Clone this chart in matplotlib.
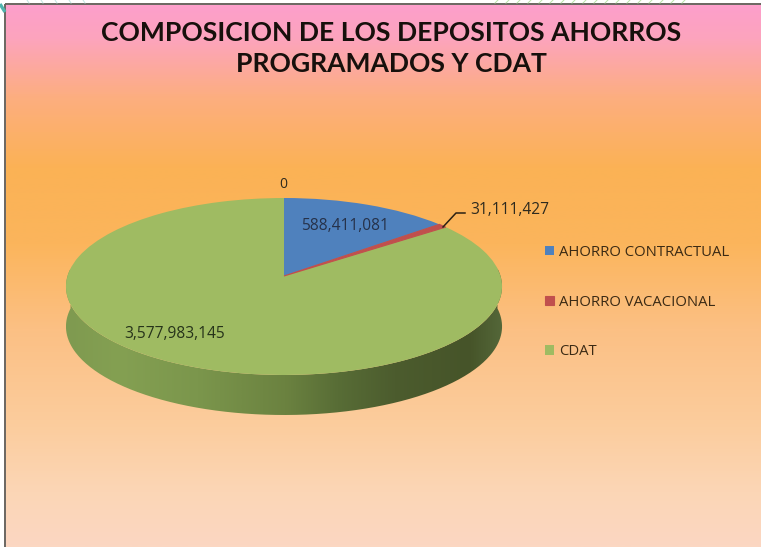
import numpy as np
import matplotlib
matplotlib.use("Agg")
import matplotlib.pyplot as plt
from matplotlib.colors import LinearSegmentedColormap
from matplotlib.path import Path
from matplotlib.patches import PathPatch, Rectangle
from matplotlib.transforms import Transform

TITLE_LINES = ["COMPOSICION DE LOS DEPOSITOS AHORROS", "PROGRAMADOS Y CDAT"]
categories = ["AHORRO CONTRACTUAL", "AHORRO VACACIONAL", "CDAT"]
values = [588411081, 31111427, 3577983145]
value_labels = ["588,411,081", "31,111,427", "3,577,983,145"]
zero_label = "0"
colors = ["#4f81bd", "#c0504d", "#9fbb62"]

W, H = 761, 547
CX, CY = 284, 276
A, B, K = 216.5, 87.25, 0.1186
DEPTH = 40


class Perspective(Transform):
    input_dims = output_dims = 2
    is_separable = False
    has_inverse = False
    is_affine = False

    def transform_non_affine(self, pts):
        pts = np.asarray(pts, float)
        w = 1 + K * pts[:, 1]
        return np.column_stack((CX + A * pts[:, 0] / w, CY - B * pts[:, 1] / w))


persp = Perspective()

fig = plt.figure(figsize=(W / 100, H / 100), dpi=100, facecolor="white")
ax = fig.add_axes([0, 0, 1, 1])

# tilted pie: wedges from the library, projected through the perspective transform
wedges, _ = ax.pie(values, colors=colors, startangle=90, counterclock=False,
                   wedgeprops=dict(linewidth=0))
for wd in wedges:
    wd.set_transform(persp + ax.transData)
    wd.set_zorder(5)
wedges[1].set_zorder(6)
wedges[1].set_edgecolor(colors[1])
wedges[1].set_linewidth(0.8)

ax.set_aspect("auto")
ax.set_axis_off()

# background panel
bg = LinearSegmentedColormap.from_list("bg", [
    (0.00, "#fd9fcb"), (0.06, "#fca4bd"), (0.17, "#fdae7f"), (0.30, "#fbb255"),
    (0.44, "#fbb55c"), (0.60, "#fcc084"), (0.78, "#fbcd9e"), (0.90, "#fcd6b6"),
    (1.00, "#fbd7c2")])
grad = np.linspace(0, 1, 512)[:, None]
ax.imshow(grad, cmap=bg, extent=(6, W, H, 5), aspect="auto", zorder=1)
ax.add_patch(Rectangle((5, 4), W, H, fc="none", ec="#6a6560", lw=1.4, zorder=2))

# slide decoration peeking out above the panel
for x0 in np.arange(495, 685, 11):
    ax.plot([x0, x0 + 3], [3, 0], color="#b9e3a8", lw=0.7, zorder=3)
for x0 in np.arange(27, 85, 14):
    ax.plot([x0, x0 + 2], [0, 3], color="#bfe6e2", lw=0.7, zorder=3)
ax.plot([0, 5], [4, 12], color="#4fb3ad", lw=2.4, zorder=3, solid_capstyle="butt")

# side of the disc
t = np.radians(np.linspace(175, 365, 240))
front = persp.transform_non_affine(np.column_stack((np.cos(t), np.sin(t))))
low = front + [0, DEPTH]
verts = np.vstack((front, low[::-1], front[:1]))
clip = PathPatch(Path(verts), fc="none", ec="none", transform=ax.transData)
ax.add_patch(clip)
side = LinearSegmentedColormap.from_list("side", [
    (0.00, "#7f9a50"), (0.12, "#84a052"), (0.30, "#7b964c"), (0.50, "#6b8240"),
    (0.62, "#586d36"), (0.75, "#4c5c2e"), (0.92, "#465429"), (1.00, "#55683a")])
im = ax.imshow(np.linspace(0, 1, 512)[None, :], cmap=side,
               extent=(CX - A - 2, CX + A + 4, CY + B + DEPTH + 20, CY - B),
               aspect="auto", zorder=4)
im.set_clip_path(clip)

ax.set_xlim(0, W)
ax.set_ylim(H, 0)

# title
for line, y in zip(TITLE_LINES, (33, 63.5)):
    ax.text(391, y, line, ha="center", va="center", family="Lato", weight="bold",
            fontsize=19.1, color="#17100c", zorder=7)

# data labels
lab = dict(family="Open Sans", fontsize=11.2, color="#2e2a1e", va="center", ha="center", zorder=7)
ax.text(345, 226, value_labels[0], **{**lab, "color": "#26324a"})
ax.text(510, 210, value_labels[1], **lab)
ax.text(175, 334, value_labels[2], **{**lab, "color": "#26331a"})
ax.text(283, 184, zero_label, **{**lab, "fontsize": 10})
ax.plot([443, 456, 465], [227, 213, 213], color="#2b2113", lw=1.1, zorder=7)

# legend
leg = ax.legend(wedges, categories, loc="upper left", bbox_to_anchor=(536 / W, 1 - 236 / H),
                frameon=False, handlelength=0.6, handleheight=0.6, handletextpad=0.33,
                labelspacing=2.33, borderaxespad=0, borderpad=0.6,
                prop=dict(family="Open Sans", size=10.7), labelcolor="#3b2a14")
leg.set_zorder(8)

fig.savefig("out.png", dpi=100)
